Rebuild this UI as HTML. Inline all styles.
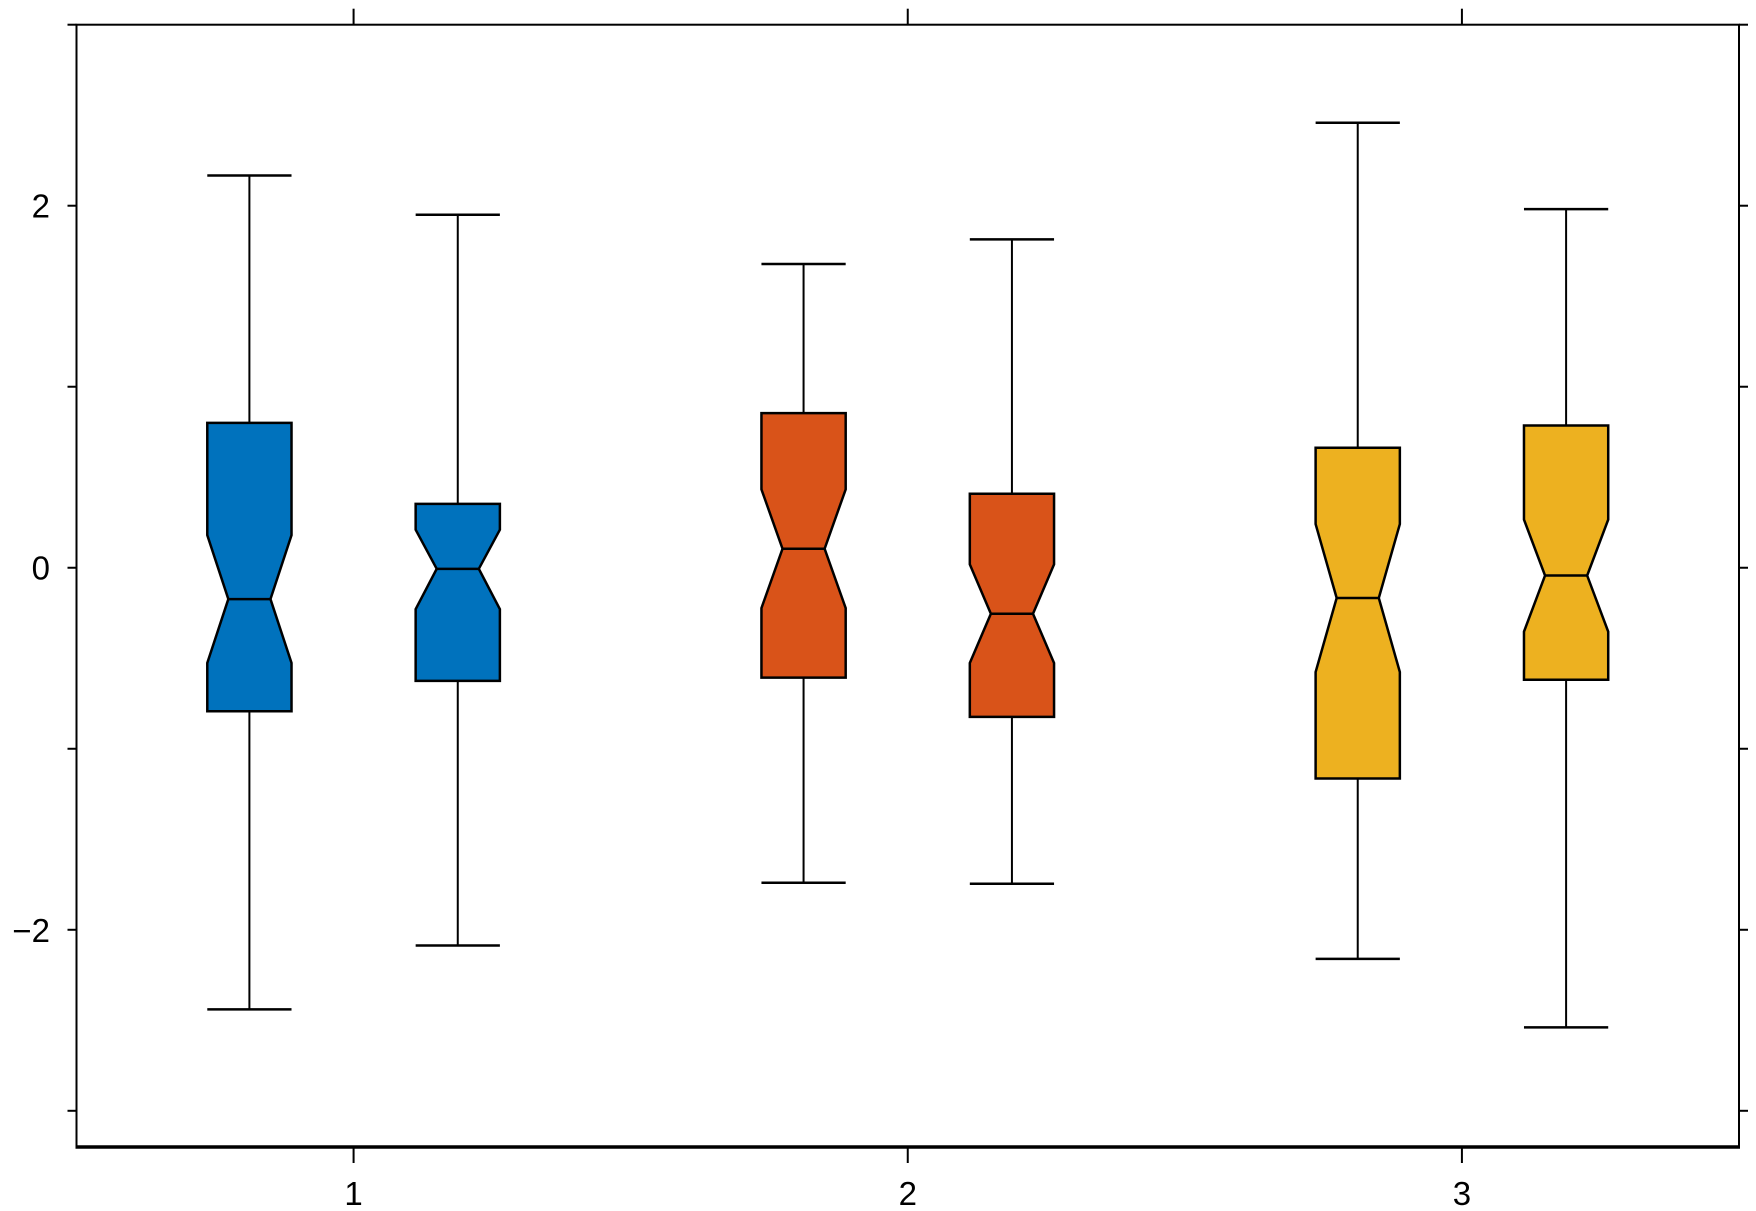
<!DOCTYPE html>
<html><head><meta charset="utf-8"><style>
html,body{margin:0;padding:0;background:#fff;}
svg{display:block;font-family:"Liberation Sans",sans-serif;}
</style></head><body>
<svg id="chart" width="1756" height="1211" viewBox="0 0 1756 1211" xmlns="http://www.w3.org/2000/svg">
<g id="marks"></g>
<g id="axes"></g>
</svg>
<script>
const groups = [1, 2, 3];
const offsets = [-0.188, 0.188];
const colors = ["#0072BD", "#D95319", "#EDB120"];
const whiskerHigh = [2.167, 1.95, 1.678, 1.814, 2.458, 1.981];
const q3 = [0.80, 0.353, 0.854, 0.409, 0.663, 0.786];
const notchHigh = [0.18, 0.21, 0.433, 0.019, 0.241, 0.266];
const medians = [-0.173, -0.006, 0.105, -0.254, -0.167, -0.043];
const notchLow = [-0.526, -0.229, -0.223, -0.526, -0.576, -0.353];
const q1 = [-0.793, -0.625, -0.607, -0.824, -1.164, -0.619];
const whiskerLow = [-2.44, -2.087, -1.74, -1.746, -2.161, -2.539];
const yTicks = [-2, 0, 2];
const yMinor = [-3, -1, 1, 3];
const xTickLabels = ["1", "2", "3"];

const L=76.5, R=1739, T=24.7, B=1147;
const xMin=0.5, xMax=3.5, yMin=-3.2, yMax=3.0;
const sx = v => L + (v - xMin) / (xMax - xMin) * (R - L);
const sy = v => B - (v - yMin) / (yMax - yMin) * (B - T);
const NS = "http://www.w3.org/2000/svg";
function mk(tag, attrs, parent) {
  const e = document.createElementNS(NS, tag);
  for (const k in attrs) e.setAttribute(k, attrs[k]);
  parent.appendChild(e);
  return e;
}
const marks = document.getElementById('marks');
const axes = document.getElementById('axes');
const bw = 0.152, nw = 0.076;
let i = 0;
groups.forEach((g, gi) => {
  offsets.forEach(o => {
    const c = g + o;
    const x0 = sx(c - bw/2), x1 = sx(c + bw/2), n0 = sx(c - nw/2), n1 = sx(c + nw/2), xc = sx(c);
    const wl = mk('line', {x1: xc, x2: xc, y1: sy(whiskerHigh[i]), y2: sy(q3[i]), stroke: '#000', 'stroke-width': 2}, marks);
    
    
    const wl2 = mk('line', {x1: xc, x2: xc, y1: sy(q1[i]), y2: sy(whiskerLow[i]), stroke: '#000', 'stroke-width': 2}, marks);
    
    
    const ct = mk('line', {x1: x0, x2: x1, y1: sy(whiskerHigh[i]), y2: sy(whiskerHigh[i]), stroke: '#000', 'stroke-width': 2.5}, marks);
    
    
    const cb = mk('line', {x1: x0, x2: x1, y1: sy(whiskerLow[i]), y2: sy(whiskerLow[i]), stroke: '#000', 'stroke-width': 2.5}, marks);
    
    
    const pts = [[x0, sy(q3[i])], [x1, sy(q3[i])], [x1, sy(notchHigh[i])], [n1, sy(medians[i])], [x1, sy(notchLow[i])], [x1, sy(q1[i])], [x0, sy(q1[i])], [x0, sy(notchLow[i])], [n0, sy(medians[i])], [x0, sy(notchHigh[i])]];
    const box = mk('polygon', {points: pts.map(p => p.join(',')).join(' '), fill: colors[gi], stroke: '#000', 'stroke-width': 2.5, 'stroke-linejoin': 'miter'}, marks);
    
    
    const md = mk('line', {x1: n0, x2: n1, y1: sy(medians[i]), y2: sy(medians[i]), stroke: '#000', 'stroke-width': 2.5}, marks);
    
    
    i++;
  });
});
const frame = mk('rect', {x: L, y: T, width: R - L, height: B - T, fill: 'none', stroke: '#000', 'stroke-width': 2}, axes);


mk('line', {x1: L - 1, x2: R + 1, y1: B, y2: B, stroke: '#000', 'stroke-width': 3.5}, axes);
groups.forEach((g, k) => {
  const x = sx(g);
  mk('line', {x1: x, x2: x, y1: B, y2: B + 16, stroke: '#000', 'stroke-width': 2}, axes);
  mk('line', {x1: x, x2: x, y1: T, y2: T - 16, stroke: '#000', 'stroke-width': 2}, axes);
  const t = mk('text', {x: x, y: B + 58, 'font-size': 33, 'text-anchor': 'middle'}, axes);
  t.textContent = xTickLabels[k];
  
  
});
yTicks.concat(yMinor).forEach(v => {
  const y = sy(v);
  mk('line', {x1: L, x2: L - 9, y1: y, y2: y, stroke: '#000', 'stroke-width': 2}, axes);
  mk('line', {x1: R, x2: R + 9, y1: y, y2: y, stroke: '#000', 'stroke-width': 2}, axes);
});
yTicks.forEach(v => {
  const t = mk('text', {x: 50, y: sy(v) + 12, 'font-size': 33, 'text-anchor': 'end'}, axes);
  t.textContent = v < 0 ? '\u2212' + Math.abs(v) : String(v);
  
  
});
</script>
</body></html>
